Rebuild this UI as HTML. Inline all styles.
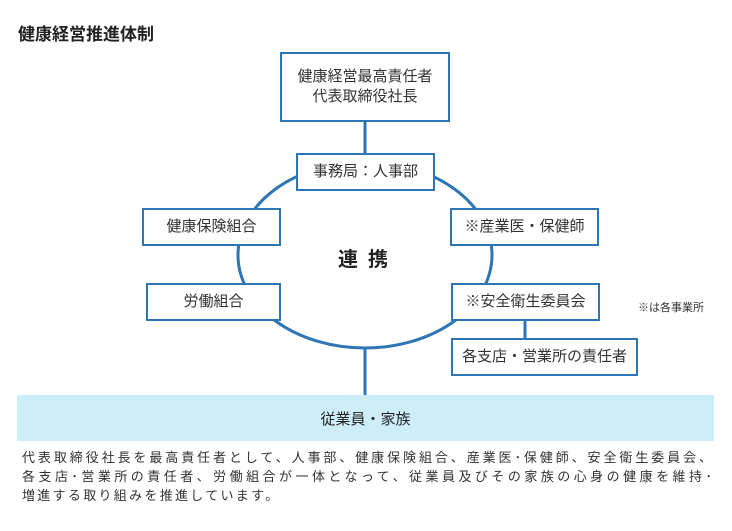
<!DOCTYPE html>
<html><head><meta charset="utf-8"><style>
body{margin:0;width:732px;height:531px;background:#fff;position:relative;font-family:"Liberation Sans","Noto Sans CJK JP",sans-serif;color:#222;overflow:hidden}
.b{position:absolute;border:2px solid #2e75b6;background:#fff;box-sizing:border-box;display:flex;align-items:center;justify-content:center;text-align:center;font-size:15px;line-height:20px;color:#333}
.l{position:absolute;font-size:13px;line-height:19px;left:22px;width:690px;text-align:justify;text-align-last:justify;color:#333}
</style></head><body>
<div style="position:absolute;left:18px;top:20px;font-size:17px;font-weight:bold">健康経営推進体制</div>
<svg width="732" height="531" style="position:absolute;left:0;top:0">
<ellipse cx="365" cy="255" rx="127" ry="93" fill="none" stroke="#2e75b6" stroke-width="3"/>
<line x1="365" y1="122" x2="365" y2="153" stroke="#2e75b6" stroke-width="3"/>
<line x1="365" y1="348" x2="365" y2="396" stroke="#2e75b6" stroke-width="3"/>
<line x1="525" y1="321" x2="525" y2="339" stroke="#2e75b6" stroke-width="3"/>
</svg>
<div class="b" style="left:280px;top:52px;width:170px;height:70px">健康経営最高責任者<br>代表取締役社長</div>
<div class="b" style="left:296px;top:153px;width:139px;height:38px">事務局：人事部</div>
<div class="b" style="left:142px;top:208px;width:139px;height:38px">健康保険組合</div>
<div class="b" style="left:146px;top:283px;width:135px;height:38px">労働組合</div>
<div class="b" style="left:450px;top:208px;width:149px;height:38px">※産業医・保健師</div>
<div class="b" style="left:451px;top:283px;width:149px;height:38px">※安全衛生委員会</div>
<div class="b" style="left:451px;top:338px;width:187px;height:38px">各支店・営業所の責任者</div>
<div style="position:absolute;left:338px;top:243px;font-size:20px;font-weight:bold;letter-spacing:10px">連携</div>
<div style="position:absolute;left:638px;top:299px;font-size:11px;color:#333">※は各事業所</div>
<div style="position:absolute;left:17px;top:395px;width:697px;height:46px;background:#cdeef9;display:flex;align-items:center;justify-content:center;font-size:15px">従業員・家族</div>
<div class="l" style="top:448px">代表取締役社長を最高責任者として、人事部、健康保険組合、産業医･保健師、安全衛生委員会、</div>
<div class="l" style="top:467px">各支店･営業所の責任者、労働組合が一体となって、従業員及びその家族の心身の健康を維持･</div>
<div class="l" style="top:486px;text-align-last:left;letter-spacing:2.3px">増進する取り組みを推進しています。</div>
</body></html>
